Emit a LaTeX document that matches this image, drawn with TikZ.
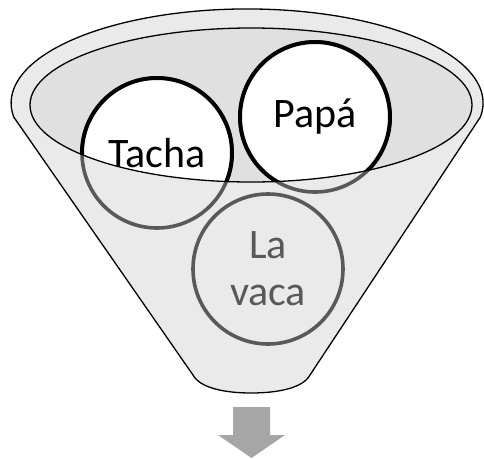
\documentclass[tikz,border=0pt]{standalone}
\usepackage{fontspec}
\setmainfont{Carlito}
\usetikzlibrary{arrows.meta}

\definecolor{funnelgray}{HTML}{EAEAEA}
\definecolor{mouthgray}{HTML}{E0E0E0}
\definecolor{backgray}{HTML}{595959}
\definecolor{arrowgray}{HTML}{A6A6A6}

\tikzset{
  front/.style={draw=black,line width=4pt,fill=white},
  back/.style={draw=backgray,line width=3.6pt},
  word/.style={font=\fontsize{42}{47}\selectfont,align=center,inner sep=0pt}
}

\begin{document}
\begin{tikzpicture}[x=1pt,y=1pt]
    \useasboundingbox (0,0) rectangle (484,-458);

    % centres of the three balls
    \coordinate (ctacha) at (157,-153);
    \coordinate (cpapa) at (315,-117);
    \coordinate (cvaca) at (268,-269);
    \coordinate (mouth) at (251,-105);

    % funnel body
    \draw [fill=funnelgray,line width=1.3pt]
      (480.4,-117) arc[start angle=-8.6,end angle=188.6,x radius=236,y radius=94]
      -- (193,-375) .. controls (200,-388) and (225,-393) .. (251,-393)
      .. controls (278,-393) and (303,-388) .. (310,-375) -- cycle;
    \fill [mouthgray] (mouth) ellipse [x radius=221,y radius=77];

    % the balls, seen through the funnel
    \draw [back] (ctacha) circle (75);
    \draw [back] (cpapa) circle (75);
    \draw [back] (cvaca) circle (75);

    % the parts above the mouth
    \begin{scope}
      \clip (mouth) ellipse [x radius=221,y radius=77];
      \draw [front] (ctacha) circle (75);
      \draw [front] (cpapa) circle (75);
    \end{scope}
    \draw [line width=1.3pt] (mouth) ellipse [x radius=221,y radius=77];

    \begin{scope}[every node/.style={word}]
      \node (tacha) at (ctacha) {Tacha};
      \node (papa) at (cpapa) {Papá};
      \node [text=backgray] (vaca) at (cvaca) {La\\vaca};
    \end{scope}

    % outlet arrow
    \coordinate (outlet) at (251.5,-458);
    \fill [arrowgray] (233,-407) -- (270,-407) -- (270,-435) -- (285,-435)
      -- (outlet) -- (218,-435) -- (233,-435) -- cycle;
  \end{tikzpicture}
\end{document}
